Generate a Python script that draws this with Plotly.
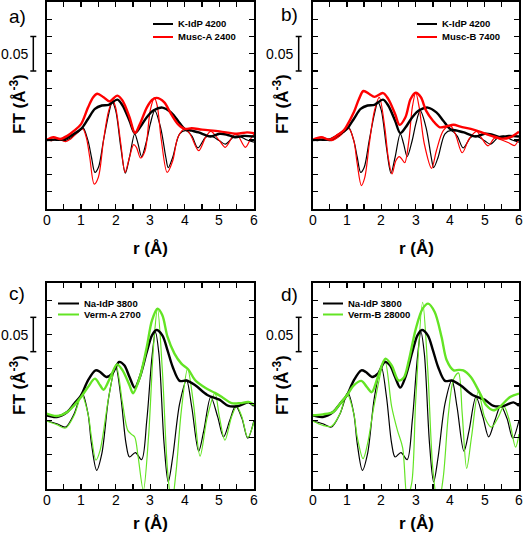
import plotly.graph_objects as go

# ---------------- data (r in Å, FT in Å^-3) ----------------
# K-IdP 4200 (panels a, b)
kidp_mag_r = [0, 0.2, 0.5, 0.8, 1.0, 1.2, 1.4, 1.6, 1.8, 2.05, 2.2, 2.4, 2.55, 2.7, 2.9, 3.1, 3.35, 3.6, 3.8, 4.0, 4.2, 4.4, 4.6, 4.75, 5.0, 5.2, 5.45, 5.7, 6.0]
kidp_mag = [0, 0.0005, 0.001, 0.009, 0.016, 0.0305, 0.045, 0.050, 0.051, 0.0585, 0.050, 0.028, 0.010, 0.018, 0.033, 0.043, 0.047, 0.040, 0.028, 0.016, 0.0135, 0.011, 0.007, 0.005, 0.009, 0.008, 0.004, 0.006, 0.005]
kidp_im_r = [0, 0.15, 0.3, 0.5, 0.7, 0.9, 1.05, 1.2, 1.3, 1.4, 1.5, 1.65, 1.8, 1.9, 2.0, 2.15, 2.28, 2.4, 2.55, 2.65, 2.75, 2.9, 3.0, 3.13, 3.3, 3.45, 3.52, 3.65, 3.85, 4.03, 4.2, 4.38, 4.6, 4.75, 5.0, 5.17, 5.4, 5.55, 5.8, 6.0]
kidp_im = [0, -0.001, 0.001, -0.001, 0.003, 0.011, 0.018, -0.001, -0.025, -0.047, -0.040, 0, 0.038, 0.055, 0.043, -0.011, -0.048, -0.025, 0.009, -0.006, -0.024, 0, 0.023, 0.0425, 0.018, -0.025, -0.040, -0.025, 0.009, 0.0135, 0.006, -0.0115, 0.004, 0.006, -0.001, -0.006, 0.004, 0.006, 0, -0.003]

# Musc-A 2400 (panel a)
musca_mag_r = [0, 0.2, 0.4, 0.6, 0.8, 1.0, 1.2, 1.35, 1.47, 1.65, 1.82, 2.05, 2.2, 2.4, 2.56, 2.7, 2.9, 3.05, 3.18, 3.4, 3.6, 3.8, 4.0, 4.2, 4.5, 5.0, 5.5, 5.8, 6.0]
musca_mag = [0, 0.004, 0.0015, 0.006, 0.0135, 0.023, 0.047, 0.062, 0.067, 0.062, 0.056, 0.0643, 0.057, 0.033, 0.010, 0.023, 0.047, 0.058, 0.061, 0.055, 0.038, 0.023, 0.016, 0.017, 0.015, 0.0125, 0.009, 0.011, 0.010]
musca_im_r = [0, 0.15, 0.3, 0.55, 0.7, 0.9, 1.05, 1.15, 1.25, 1.38, 1.5, 1.65, 1.8, 1.92, 2.0, 2.15, 2.27, 2.4, 2.52, 2.6, 2.72, 2.85, 3.0, 3.12, 3.2, 3.32, 3.49, 3.65, 3.8, 4.0, 4.15, 4.4, 4.6, 4.75, 5.0, 5.17, 5.4, 5.5, 5.75, 5.9, 6.0]
musca_im = [0, -0.001, 0.0024, -0.0024, 0.0015, 0.011, 0.016, 0.0039, -0.025, -0.064, -0.054, 0, 0.043, 0.057, 0.047, -0.0058, -0.047, -0.025, -0.0068, -0.0106, -0.0261, -0.0155, 0.043, 0.061, 0.050, 0, -0.047, -0.030, 0.0039, 0.016, 0.0087, -0.0155, 0.0039, 0.0126, -0.001, -0.0106, 0.0063, 0.0087, -0.0106, 0.0015, 0.0087]

# Musc-B 7400 (panel b)
muscb_mag_r = [0, 0.25, 0.5, 0.7, 0.9, 1.0, 1.2, 1.35, 1.48, 1.65, 1.8, 2.05, 2.2, 2.4, 2.53, 2.7, 2.85, 3.0, 3.15, 3.3, 3.5, 3.7, 3.9, 4.1, 4.3, 4.6, 4.9, 5.2, 5.5, 5.75, 6.0]
muscb_mag = [0, 0.0039, 0.0005, 0.0063, 0.0135, 0.0208, 0.0401, 0.0595, 0.0710, 0.0667, 0.0625, 0.0680, 0.0595, 0.0377, 0.022, 0.0329, 0.0595, 0.0685, 0.0619, 0.0426, 0.028, 0.0184, 0.0200, 0.0220, 0.0194, 0.016, 0.0115, 0.006, 0.002, 0.004, 0.012]
muscb_im_r = [0, 0.3, 0.55, 0.8, 1.05, 1.2, 1.3, 1.42, 1.52, 1.65, 1.8, 1.94, 2.1, 2.2, 2.31, 2.42, 2.52, 2.6, 2.68, 2.8, 2.9, 3.0, 3.1, 3.25, 3.46, 3.6, 3.8, 4.0, 4.15, 4.35, 4.55, 4.77, 4.9, 5.1, 5.3, 5.5, 5.7, 5.87, 6.0]
muscb_im = [0, 0.0039, -0.001, 0.0063, 0.0169, -0.001, -0.0348, -0.0660, -0.0542, -0.0058, 0.0426, 0.0619, 0.0184, -0.0251, -0.0493, -0.030, -0.0240, -0.028, -0.0330, -0.001, 0.0474, 0.0685, 0.0474, -0.0058, -0.0410, -0.0155, 0.0135, 0.0208, 0.0087, -0.0185, 0.0015, 0.0125, 0.0039, -0.0085, 0.0030, 0.0, -0.0040, -0.0080, 0.002]

# Na-IdP 3800 (panels c, d)
naidp_mag_r = [0, 0.3, 0.6, 0.8, 1.0, 1.2, 1.42, 1.55, 1.73, 1.9, 2.1, 2.25, 2.4, 2.55, 2.7, 2.9, 3.05, 3.18, 3.35, 3.5, 3.65, 3.85, 4.05, 4.3, 4.65, 5.0, 5.26, 5.55, 5.84, 6.0]
naidp_mag = [0.0073, 0.0049, 0.0121, 0.0243, 0.0364, 0.0583, 0.0728, 0.0704, 0.0631, 0.068, 0.085, 0.0801, 0.0631, 0.0476, 0.0631, 0.0995, 0.1238, 0.1315, 0.1238, 0.1019, 0.0777, 0.0575, 0.0580, 0.051, 0.0370, 0.0301, 0.0210, 0.0209, 0.0262, 0.0210]
naidp_im_r = [0, 0.3, 0.55, 0.8, 1.03, 1.2, 1.3, 1.45, 1.6, 1.8, 2.0, 2.15, 2.3, 2.4, 2.57, 2.75, 2.9, 3.05, 3.15, 3.25, 3.4, 3.52, 3.65, 3.85, 4.05, 4.2, 4.4, 4.55, 4.75, 4.95, 5.12, 5.3, 5.47, 5.65, 5.82, 6.0]
naidp_im = [-0.001, -0.0049, -0.0097, 0.0097, 0.0398, 0.0097, -0.034, -0.0728, -0.0485, 0.034, 0.0777, 0.034, -0.034, -0.0534, -0.0470, -0.0573, 0, 0.0922, 0.1286, 0.0971, -0.034, -0.0898, -0.0534, 0.0243, 0.0583, 0.0194, -0.0450, -0.0146, 0.034, 0.0050, -0.0240, 0, 0.0210, 0.0030, -0.0260, 0.0]

# Verm-A 2700 (panel c)
verma_mag_r = [0, 0.3, 0.6, 0.8, 1.0, 1.2, 1.4, 1.55, 1.65, 1.85, 2.04, 2.2, 2.4, 2.5, 2.7, 2.9, 3.05, 3.21, 3.35, 3.5, 3.7, 3.9, 4.1, 4.3, 4.6, 4.87, 5.1, 5.35, 5.6, 5.84, 6.0]
verma_mag = [0.0097, 0.0063, 0.0121, 0.0218, 0.034, 0.0485, 0.0607, 0.051, 0.0445, 0.0631, 0.0815, 0.0728, 0.051, 0.0395, 0.0631, 0.1068, 0.1456, 0.1626, 0.1529, 0.1214, 0.0971, 0.0825, 0.0740, 0.0583, 0.0470, 0.0400, 0.0330, 0.0250, 0.0250, 0.0267, 0.0228]
verma_im_r = [0, 0.3, 0.55, 0.8, 1.02, 1.2, 1.3, 1.43, 1.55, 1.8, 2.01, 2.2, 2.35, 2.45, 2.55, 2.65, 2.8, 2.95, 3.1, 3.21, 3.35, 3.5, 3.62, 3.75, 3.9, 4.08, 4.25, 4.44, 4.65, 4.87, 5.0, 5.16, 5.35, 5.5, 5.65, 5.82, 6.0]
verma_im = [-0.001, -0.0063, -0.0112, 0.0073, 0.0364, 0.0097, -0.0243, -0.0580, -0.0437, 0.034, 0.0805, 0.0243, -0.0146, -0.0200, -0.0243, -0.0534, -0.1019, -0.0243, 0.1117, 0.1626, 0.0728, -0.0728, -0.1214, -0.0728, 0.0146, 0.0750, 0.0243, -0.0520, 0.0049, 0.0395, 0.0049, -0.0290, 0.0049, 0.0204, 0.0049, -0.0250, -0.002]

# Verm-B 28000 (panel d)
vermb_mag_r = [0, 0.3, 0.6, 0.8, 1.0, 1.2, 1.42, 1.58, 1.72, 1.9, 2.12, 2.3, 2.5, 2.65, 2.8, 3.0, 3.2, 3.36, 3.55, 3.75, 3.9, 4.1, 4.25, 4.38, 4.6, 4.87, 5.05, 5.26, 5.45, 5.74, 6.0]
vermb_mag = [0.0073, 0.0087, 0.0121, 0.0243, 0.0364, 0.051, 0.0575, 0.0485, 0.0410, 0.0631, 0.0898, 0.0800, 0.0580, 0.0620, 0.0874, 0.1330, 0.1626, 0.1700, 0.1578, 0.1214, 0.0874, 0.0728, 0.0735, 0.0728, 0.0631, 0.0390, 0.0220, 0.0146, 0.0200, 0.0340, 0.0390]
vermb_im_r = [0, 0.3, 0.55, 0.8, 1.0, 1.2, 1.3, 1.47, 1.6, 1.8, 2.1, 2.3, 2.47, 2.62, 2.75, 2.88, 3.0, 3.2, 3.35, 3.5, 3.65, 3.8, 3.95, 4.1, 4.24, 4.35, 4.48, 4.62, 4.82, 5.0, 5.2, 5.4, 5.56, 5.72, 5.9, 6.0]
vermb_im = [-0.001, -0.0073, -0.0087, 0.0097, 0.0388, 0.0097, -0.0243, -0.0558, -0.034, 0.0243, 0.0874, 0.0200, -0.0150, -0.0400, -0.1117, -0.0922, 0.0300, 0.1720, 0.0728, -0.0728, -0.1250, -0.0825, 0.0097, 0.0600, 0.0690, 0.0097, -0.0700, -0.0243, 0.0420, 0.0049, -0.0100, 0.0049, 0.0204, 0.0000, -0.0390, -0.0200]

x_tick_vals = [0, 0.5, 1, 1.5, 2, 2.5, 3, 3.5, 4, 4.5, 5, 5.5, 6]
x_label_vals = [0, 1, 2, 3, 4, 5, 6]
x_label_text = ["0", "1", "2", "3", "4", "5", "6"]
y_tick_vals = [-0.1, -0.075, -0.05, -0.025, 0, 0.025, 0.05, 0.075, 0.1, 0.125, 0.15, 0.175, 0.2]
scale_bar = [0.10, 0.15]
scale_label = "0.05"
panel_labels = ["a)", "b)", "c)", "d)"]
legend_names = [["K-IdP 4200", "Musc-A 2400"], ["K-IdP 4200", "Musc-B 7400"],
                ["Na-IdP 3800", "Verm-A 2700"], ["Na-IdP 3800", "Verm-B 28000"]]

# ---------------- layout geometry ----------------
W, H = 524, 542
RED = "#ff0000"
GREEN = "#63e424"
FONT = "Liberation Sans"

def px(x):
    return x / W

def py(y):
    return 1 - y / H

xdom = [[px(46.5), px(254)], [px(312.5), px(519)]]
ydom = [[py(209), py(2)], [py(489), py(283)]]

panels = [
    dict(xd=xdom[0], yd=ydom[0], col=RED,
         series=[(kidp_mag_r, kidp_mag, kidp_im_r, kidp_im, "black"),
                 (musca_mag_r, musca_mag, musca_im_r, musca_im, RED)]),
    dict(xd=xdom[1], yd=ydom[0], col=RED,
         series=[(kidp_mag_r, kidp_mag, kidp_im_r, kidp_im, "black"),
                 (muscb_mag_r, muscb_mag, muscb_im_r, muscb_im, RED)]),
    dict(xd=xdom[0], yd=ydom[1], col=GREEN,
         series=[(naidp_mag_r, naidp_mag, naidp_im_r, naidp_im, "black"),
                 (verma_mag_r, verma_mag, verma_im_r, verma_im, GREEN)]),
    dict(xd=xdom[1], yd=ydom[1], col=GREEN,
         series=[(naidp_mag_r, naidp_mag, naidp_im_r, naidp_im, "black"),
                 (vermb_mag_r, vermb_mag, vermb_im_r, vermb_im, GREEN)]),
]

fig = go.Figure()
layout = dict(width=W, height=H, margin=dict(l=0, r=0, t=0, b=0),
              paper_bgcolor="white", plot_bgcolor="white", showlegend=False,
              font=dict(family=FONT, color="black"))
annotations = []
shapes = []

# pixel anchors for decorations per panel
label_pos = [(7, 16), (279, 15), (7, 293), (279, 294)]
ytitle_pos = [(18, 104), (281, 104), (18, 385), (281, 385)]
xtitle_pos = [(150, 248), (416, 248), (150, 523), (416, 523)]
xlabel_y = [220, 220, 500, 500]
bar_x = [33.3, 298.7, 33.3, 298.7]
bar_label_right = [29.5, 295, 29.5, 295]
leg_line = [(153, 173), (417, 437), (58, 79), (323, 343)]
leg_y = [(24, 37), (24, 37), (303.5, 314.5), (303.5, 314.5)]

for i, p in enumerate(panels):
    k = "" if i == 0 else str(i + 1)
    xa, ya = "x" + k, "y" + k
    for (mr, mv, ir, iv, c) in p["series"]:
        fig.add_trace(go.Scatter(x=ir, y=iv, mode="lines", xaxis=xa, yaxis=ya,
                                 line=dict(color=c, width=1.2, shape="spline", smoothing=0.9),
                                 hoverinfo="skip"))
    for (mr, mv, ir, iv, c) in p["series"]:
        fig.add_trace(go.Scatter(x=mr, y=mv, mode="lines", xaxis=xa, yaxis=ya,
                                 line=dict(color=c, width=2.4, shape="spline", smoothing=0.9),
                                 hoverinfo="skip"))
    axcommon = dict(showline=True, linecolor="black", linewidth=1.6, mirror="ticks",
                    ticks="inside", ticklen=5, tickwidth=1.3, tickcolor="black",
                    showgrid=False, zeroline=False, fixedrange=True, showticklabels=False)
    layout["xaxis" + k] = dict(domain=p["xd"], range=[0, 6], anchor=ya,
                               tickmode="array", tickvals=x_tick_vals, **axcommon)
    layout["yaxis" + k] = dict(domain=p["yd"], range=[-0.1, 0.2], anchor=xa,
                               tickmode="array", tickvals=y_tick_vals, **axcommon)

    # x tick labels (placed on the x axis scale)
    for v, t in zip(x_label_vals, x_label_text):
        annotations.append(dict(text=t, x=v, y=py(xlabel_y[i]), xref=xa, yref="paper",
                                xanchor="center", yanchor="middle", showarrow=False,
                                font=dict(size=14, family=FONT)))

    lx, ly = label_pos[i]
    annotations.append(dict(text=panel_labels[i], x=px(lx), y=py(ly), xref="paper", yref="paper",
                            xanchor="left", yanchor="middle", showarrow=False,
                            font=dict(size=19, family=FONT)))
    tx, ty = ytitle_pos[i]
    annotations.append(dict(text="<b>FT (Å<sup>-3</sup>)</b>", x=px(tx), y=py(ty), xref="paper", yref="paper",
                            xanchor="center", yanchor="middle", textangle=-90, showarrow=False,
                            font=dict(size=17, family=FONT)))
    tx, ty = xtitle_pos[i]
    annotations.append(dict(text="<b>r (Å)</b>", x=px(tx), y=py(ty), xref="paper", yref="paper",
                            xanchor="center", yanchor="middle", showarrow=False,
                            font=dict(size=17, family=FONT)))
    # scale bar
    bx = bar_x[i]
    shapes.append(dict(type="line", xref="paper", yref=ya, x0=px(bx), x1=px(bx),
                       y0=scale_bar[0], y1=scale_bar[1], line=dict(color="black", width=1.5)))
    for yv in scale_bar:
        shapes.append(dict(type="line", xref="paper", yref=ya, x0=px(bx - 3), x1=px(bx + 3),
                           y0=yv, y1=yv, line=dict(color="black", width=1.5)))
    annotations.append(dict(text=scale_label, x=px(bar_label_right[i]), y=sum(scale_bar) / 2,
                            xref="paper", yref=ya, xanchor="right", yanchor="middle",
                            showarrow=False, font=dict(size=14, family=FONT)))
    # legend
    l0, l1 = leg_line[i]
    for j, (name, c) in enumerate(zip(legend_names[i], ["black", p["col"]])):
        yy = leg_y[i][j]
        shapes.append(dict(type="line", xref="paper", yref="paper", x0=px(l0), x1=px(l1),
                           y0=py(yy), y1=py(yy), line=dict(color=c, width=2)))
        annotations.append(dict(text="<b>" + name + "</b>", x=px(l1 + 3), y=py(yy),
                                xref="paper", yref="paper", xanchor="left", yanchor="middle",
                                showarrow=False, font=dict(size=9.5, family=FONT)))

layout["annotations"] = annotations
layout["shapes"] = shapes
fig.update_layout(**layout)
fig.write_html("out.html",
               config={"displayModeBar": False, "staticPlot": True},
               post_script="document.body.style.margin='0px';document.body.style.padding='0px';"
                           "document.documentElement.style.overflow='hidden';")
